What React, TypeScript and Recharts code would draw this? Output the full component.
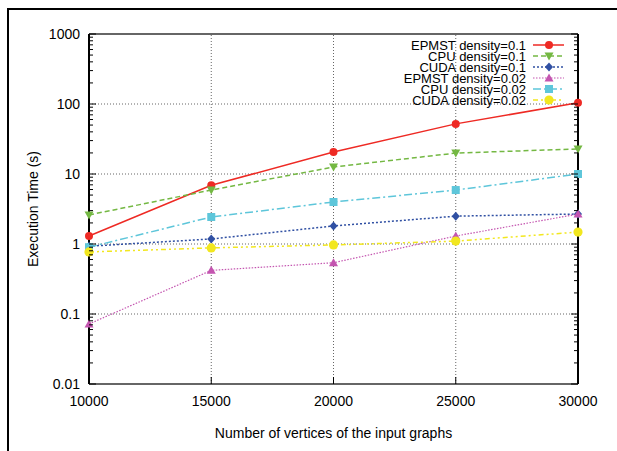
import React from "react";
import {
  LineChart,
  Line,
  XAxis,
  YAxis,
  ReferenceLine,
  Legend,
} from "recharts";

const vertices = [10000, 15000, 20000, 25000, 30000];
const epmst01 = [1.3, 6.9, 20.6, 52, 104];
const cpu01 = [2.6, 5.9, 12.6, 19.9, 22.8];
const cuda01 = [0.93, 1.18, 1.81, 2.5, 2.68];
const epmst002 = [0.072, 0.42, 0.54, 1.3, 2.68];
const cpu002 = [0.9, 2.43, 3.98, 5.9, 10];
const cuda002 = [0.77, 0.88, 0.97, 1.1, 1.48];

const xTicks = [10000, 15000, 20000, 25000, 30000];
const yMajor = [0.01, 0.1, 1, 10, 100, 1000];
const yMinor = yMajor
  .slice(0, -1)
  .flatMap((d) => [2, 3, 4, 5, 6, 7, 8, 9].map((k) => +(d * k).toPrecision(3)));
const yTicks = [...yMajor, ...yMinor].sort((a, b) => a - b);

const FONT = "'Liberation Sans', Arial, Helvetica, sans-serif";

type Shape = "circle" | "triDown" | "diamond" | "triUp" | "square" | "bigCircle";

const series: { key: string; name: string; color: string; dash?: string; width: number; shape: Shape }[] = [
  { key: "epmst01", name: "EPMST density=0.1", color: "#ee2a24", width: 1.5, shape: "circle" },
  { key: "cpu01", name: "CPU density=0.1", color: "#74b843", dash: "5 3", width: 1.5, shape: "triDown" },
  { key: "cuda01", name: "CUDA density=0.1", color: "#3050a3", dash: "2 2", width: 1.5, shape: "diamond" },
  { key: "epmst002", name: "EPMST density=0.02", color: "#c455b0", dash: "1.5 1.5", width: 1.2, shape: "triUp" },
  { key: "cpu002", name: "CPU density=0.02", color: "#5ec6da", dash: "8 3 2 3", width: 1.5, shape: "square" },
  { key: "cuda002", name: "CUDA density=0.02", color: "#f2e71f", dash: "5 3 2 3 2 3", width: 1.5, shape: "bigCircle" },
];

const data = vertices.map((x, i) => ({
  x,
  epmst01: epmst01[i],
  cpu01: cpu01[i],
  cuda01: cuda01[i],
  epmst002: epmst002[i],
  cpu002: cpu002[i],
  cuda002: cuda002[i],
}));

function Marker({ cx, cy, shape, color }: { cx: number; cy: number; shape: Shape; color: string }) {
  if (cx == null || cy == null) return null;
  switch (shape) {
    case "circle":
      return <circle cx={cx} cy={cy} r={4} fill={color} />;
    case "bigCircle":
      return <circle cx={cx} cy={cy} r={4.6} fill={color} />;
    case "triDown":
      return <polygon points={`${cx - 4.5},${cy - 3.5} ${cx + 4.5},${cy - 3.5} ${cx},${cy + 4.5}`} fill={color} />;
    case "triUp":
      return <polygon points={`${cx - 4.5},${cy + 3.5} ${cx + 4.5},${cy + 3.5} ${cx},${cy - 4.5}`} fill={color} />;
    case "diamond":
      return <polygon points={`${cx},${cy - 4.5} ${cx + 4},${cy} ${cx},${cy + 4.5} ${cx - 4},${cy}`} fill={color} />;
    case "square":
      return <rect x={cx - 4} y={cy - 4} width={8} height={8} fill={color} />;
  }
  return null;
}

function YTick(props: any) {
  const { x, y, payload, side } = props;
  const v = payload.value;
  const major = yMajor.includes(v);
  const len = major ? 7 : 4;
  const dir = side === "left" ? 1 : -1;
  return (
    <g>
      <line x1={x} x2={x + dir * len} y1={y} y2={y} stroke="#000" strokeWidth={1} />
      {side === "left" && major && (
        <text x={x - 9} y={y} dy={5} textAnchor="end" fontSize={14} fill="#000" fontFamily={FONT}>
          {String(v)}
        </text>
      )}
    </g>
  );
}

function XTick(props: any) {
  const { x, y, payload } = props;
  return (
    <g>
      <line x1={x} x2={x} y1={y} y2={y - 7} stroke="#000" strokeWidth={1} />
      <text x={x} y={y + 22} textAnchor="middle" fontSize={14} fill="#000" fontFamily={FONT}>
        {payload.value}
      </text>
    </g>
  );
}

function LegendBox() {
  return (
    <svg width={200} height={72} style={{ overflow: "visible", display: "block" }}>
      {series.map((s, i) => {
        const cy = 7 + i * 11;
        return (
          <g key={s.key}>
            <text x={146} y={cy} dy={4.7} textAnchor="end" fontSize={13} fill="#000" fontFamily={FONT}>
              {s.name}
            </text>
            <line x1={153} x2={184} y1={cy} y2={cy} stroke={s.color} strokeWidth={s.width} strokeDasharray={s.dash} />
            <Marker cx={169} cy={cy} shape={s.shape} color={s.color} />
          </g>
        );
      })}
    </svg>
  );
}

export default function App() {
  return (
    <div style={{ position: "absolute", left: 0, top: 0, width: 617, height: 451, background: "#fff", overflow: "hidden", fontFamily: FONT }}>
      <div style={{ position: "absolute", left: 7, top: 8, width: 700, height: 600, borderLeft: "2px solid #000", borderTop: "2px solid #000" }} />
      <LineChart
        width={617}
        height={451}
        data={data}
        margin={{ top: 34, right: 0, left: 0, bottom: 0 }}
        style={{ position: "absolute", left: 0, top: 0, fontFamily: FONT }}
      >
        <XAxis
          dataKey="x"
          type="number"
          domain={[10000, 30000]}
          ticks={xTicks}
          interval={0}
          height={67}
          tickSize={0}
          tickMargin={0}
          axisLine={false}
          tick={<XTick />}
          label={{
            content: ({ viewBox }: any) => (
              <text x={viewBox.x + viewBox.width / 2} y={viewBox.y + 54} textAnchor="middle" fontSize={14} fill="#000" fontFamily={FONT}>
                Number of vertices of the input graphs
              </text>
            ),
          }}
        />
        <YAxis
          scale="log"
          domain={[0.01, 1000]}
          ticks={yTicks}
          interval={0}
          allowDataOverflow
          width={89}
          tickSize={0}
          tickMargin={0}
          axisLine={false}
          tick={<YTick side="left" />}
          label={{
            content: ({ viewBox }: any) => {
              const cx = viewBox.x + 33;
              const cy = viewBox.y + viewBox.height / 2;
              return (
                <text x={cx} y={cy} transform={`rotate(-90 ${cx} ${cy})`} textAnchor="middle" dy={5} fontSize={14} fill="#000" fontFamily={FONT}>
                  Execution Time (s)
                </text>
              );
            },
          }}
        />
        <YAxis
          yAxisId="r"
          orientation="right"
          scale="log"
          domain={[0.01, 1000]}
          ticks={yTicks}
          interval={0}
          allowDataOverflow
          width={39}
          tickSize={0}
          tickMargin={0}
          axisLine={false}
          tick={<YTick side="right" />}
        />
        {[0.1, 1, 10, 100].map((v) => (
          <ReferenceLine key={"gy" + v} y={v} stroke="#666" strokeWidth={1} strokeDasharray="1 2" />
        ))}
        {[15000, 20000, 25000].map((v) => (
          <ReferenceLine key={"gx" + v} x={v} stroke="#666" strokeWidth={1} strokeDasharray="1 2" />
        ))}
        <ReferenceLine y={1000} stroke="#333" strokeWidth={1.5} />
        <ReferenceLine y={0.01} stroke="#333" strokeWidth={1.5} />
        <ReferenceLine x={10000} stroke="#000" strokeWidth={2} />
        <ReferenceLine x={30000} stroke="#000" strokeWidth={2} />
        {series.map((s) => (
          <Line
            key={s.key}
            dataKey={s.key}
            name={s.name}
            type="linear"
            stroke={s.color}
            strokeWidth={s.width}
            strokeDasharray={s.dash}
            isAnimationActive={false}
            activeDot={false}
            dot={(p: any) => <Marker key={s.key + p.index} cx={p.cx} cy={p.cy} shape={s.shape} color={s.color} />}
          />
        ))}
        <Legend
          layout="vertical"
          align="center"
          verticalAlign="middle"
          content={() => <LegendBox />}
          wrapperStyle={{ position: "absolute", left: 380, top: 38, width: 200, height: 72 }}
        />
      </LineChart>
    </div>
  );
}
